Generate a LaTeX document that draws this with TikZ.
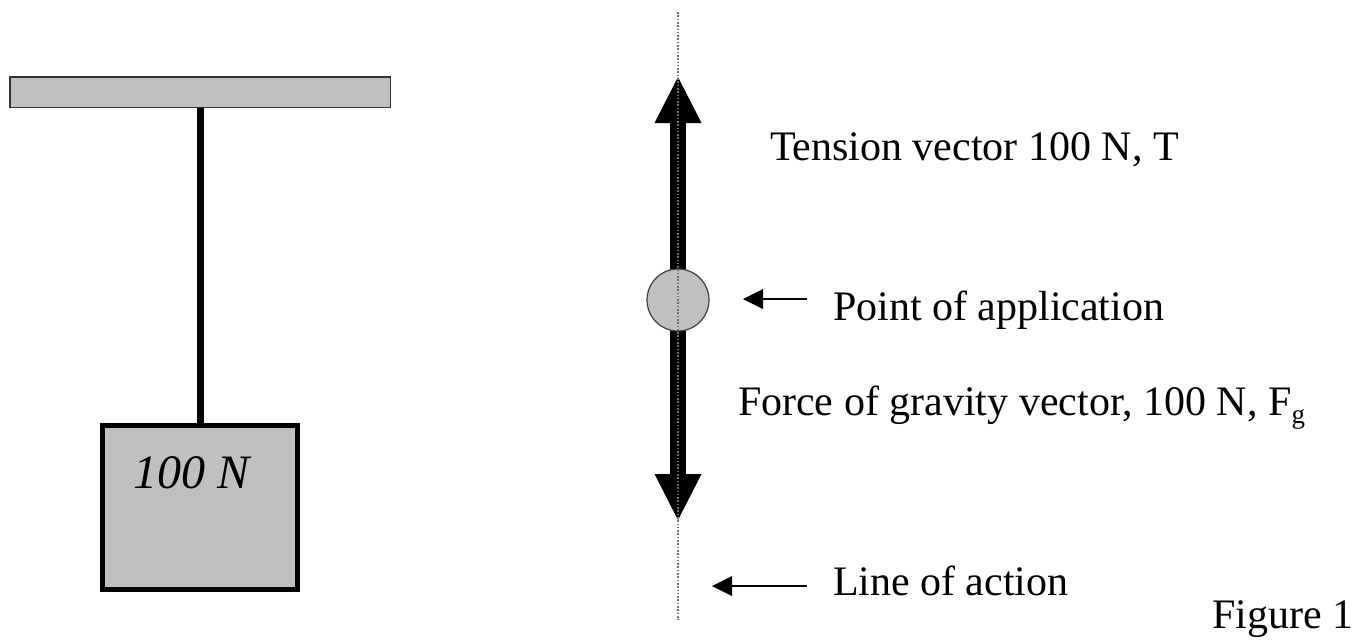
\documentclass[tikz,border=0pt]{standalone}
\usepackage{fontspec}
\setmainfont{Liberation Serif}
\usetikzlibrary{arrows.meta}
\definecolor{fillgray}{HTML}{C0C0C0}
\definecolor{dotgray}{HTML}{707070}
\tikzset{
  lbl/.style={anchor=base west, inner sep=0pt, outer sep=0pt, font=\fontsize{42}{50}\selectfont},
  bigvec/.style={line width=16pt, -{Triangle[length=46pt,width=47pt,line width=0pt]}},
  pointer/.style={line width=2pt, -{Triangle[length=20pt,width=20pt,line width=0pt]}},
  loa/.style={dotgray, line width=1.5pt, dash pattern=on 1.6pt off 1.7pt},
}
\begin{document}
\begin{tikzpicture}[x=1pt,y=-1pt]
\useasboundingbox (0,0) rectangle (1357,641);
% hanging weight
\node[draw=black!80, line width=1.5pt, fill=fillgray, minimum width=380.5pt, minimum height=30.5pt, inner sep=0pt] (ceiling) at (200,92) {};
\node[draw=black, line width=5pt, fill=fillgray, minimum width=195pt, minimum height=164pt, inner sep=0pt] (box) at (200,507.5) {};
\draw[line width=7pt] (ceiling.south) -- (box.north);
\node[anchor=base west, inner sep=0pt, font=\fontsize{48}{56}\selectfont\itshape] (wlabel) at (133,488) {100 N};
% free body diagram
\coordinate (top) at (678,12);
\coordinate (bot) at (678,620);
\coordinate (ttip) at (678,77);
\coordinate (gtip) at (678,520);
\coordinate (pc) at (678,300);
\draw[bigvec] (pc) -- (ttip);
\draw[bigvec] (pc) -- (gtip);
\node[circle, draw=black!75, line width=1.2pt, fill=fillgray, minimum size=62pt, inner sep=0pt] (pt) at (pc) {};
\draw[loa] (top) -- (bot);
% labels
\node[lbl] (tlabel) at (770,160) {Tension vector 100 N, T};
\node[lbl] (plabel) at (833,320) {Point of application};
\node[lbl] (glabel) at (738,415) {Force of gravity vector, 100 N, F\raisebox{-8pt}{\fontsize{27}{27}\selectfont g}};
\node[lbl] (llabel) at (833,595) {Line of action};
\node[lbl] (fig) at (1212,628) {Figure 1};
% pointers
\coordinate (p1s) at (807,299);
\coordinate (p1e) at (743,299);
\coordinate (p2s) at (807,586);
\coordinate (p2e) at (712,586);
\draw[pointer] (p1s) -- (p1e);
\draw[pointer] (p2s) -- (p2e);
\end{tikzpicture}
\end{document}
